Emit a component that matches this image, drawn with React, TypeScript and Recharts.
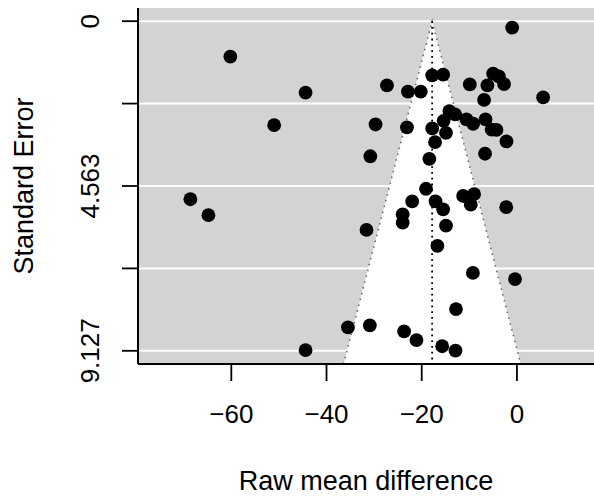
import React from 'react';
import { ComposedChart, Area, Line, Scatter, XAxis, YAxis, CartesianGrid } from 'recharts';

// observed effects (raw mean difference) and their standard errors
const effects = [
  -1.0, -60.2, -44.4, -51.0, -27.3, -17.8, -15.5, -22.9, -20.2, -9.9,
  -6.2, -6.9, -5.0, -3.8, -2.7, 5.5, -14.2, -13.0, -15.4, -10.6,
  -9.2, -6.6, -5.3, -4.3, -2.2, -29.7, -23.1, -17.8, -14.9, -17.2,
  -30.8, -18.4, -6.7, -19.1, -9.0, -11.3, -9.7, -22.0, -17.1, -15.5,
  -24.0, -24.0, -14.9, -2.25, -68.6, -64.8, -31.6, -16.7, -9.25, -0.4,
  -12.8, -35.5, -30.9, -23.7, -21.1, -15.7, -12.9, -44.4,
];
const stdErrors = [
  0.18, 0.98, 1.98, 2.88, 1.78, 1.5, 1.48, 1.95, 1.95, 1.75,
  1.78, 2.18, 1.45, 1.53, 1.74, 2.11, 2.49, 2.58, 2.76, 2.72,
  2.84, 2.72, 3.0, 3.01, 3.33, 2.86, 2.94, 2.97, 3.09, 3.35,
  3.74, 3.81, 3.67, 4.64, 4.79, 4.84, 5.08, 4.99, 4.99, 5.21,
  5.35, 5.58, 5.66, 5.15, 4.93, 5.37, 5.78, 6.22, 6.97, 7.14,
  7.97, 8.48, 8.42, 8.59, 8.83, 9.0, 9.12, 9.11,
];

const pooled = -17.81;
const seTicks = [0, 2.2817, 4.5635, 6.8452, 9.127];
const seTickLabels = ['0', '2.282', '4.563', '6.845', '9.127'];
const xTicks = [-60, -40, -20, 0];

const yDomain = [-0.365, 9.492];
const xDomain = [-79.6, 16.19];

const points = effects.map((v, i) => ({ x: v, se: stdErrors[i] }));

// white funnel: pooled +/- 1.96 * SE, down to the bottom of the plot
const half = 1.96 * yDomain[1];
const funnel = [
  { x: pooled - half, band: [yDomain[1], yDomain[1]] },
  { x: pooled, band: [0, yDomain[1]] },
  { x: pooled + half, band: [yDomain[1], yDomain[1]] },
];
const centerLine = [
  { x: pooled, se: 0 },
  { x: pooled, se: yDomain[1] },
];

const FONT = '"Liberation Sans", Arial, sans-serif';

const Dot = (props: any) => <circle cx={props.cx} cy={props.cy} r={6.9} fill="#000" />;

const YTick = (props: any) => {
  const { y, index } = props;
  if (index % 2 !== 0) return null;
  const bx = 99;
  return (
    <text x={bx} y={y} transform={`rotate(-90, ${bx}, ${y})`} textAnchor="middle" fontSize={26} fontFamily={FONT} fill="#000">
      {seTickLabels[index]}
    </text>
  );
};

const XTick = (props: any) => {
  const { x, payload } = props;
  return (
    <text x={x} y={423} textAnchor="middle" fontSize={26} fontFamily={FONT} fill="#000">
      {String(payload.value).replace('-', '\u2212')}
    </text>
  );
};

const YLabel = () => {
  const cx = 33;
  const cy = 186;
  return (
    <text x={cx} y={cy} transform={`rotate(-90, ${cx}, ${cy})`} textAnchor="middle" fontSize={27} fontFamily={FONT} fill="#000">
      Standard Error
    </text>
  );
};

const XLabel = () => (
  <text x={366} y={490} textAnchor="middle" fontSize={27} fontFamily={FONT} fill="#000">
    Raw mean difference
  </text>
);

export default function App() {
  return (
    <div style={{ position: 'absolute', left: 0, top: 0, width: 594, height: 499, background: '#fff' }}>
      <ComposedChart width={594} height={499} data={funnel} margin={{ top: 8, right: 0, bottom: 0, left: 0 }}>
        <CartesianGrid fill="#d3d3d3" fillOpacity={1} stroke="#fff" strokeWidth={2} vertical={false} horizontalValues={seTicks} />
        <XAxis
          type="number"
          dataKey="x"
          domain={xDomain}
          allowDataOverflow
          ticks={xTicks}
          height={135}
          tickSize={17}
          axisLine={{ stroke: '#000', strokeWidth: 2 }}
          tickLine={{ stroke: '#000', strokeWidth: 1.8 }}
          tick={<XTick />}
          label={<XLabel />}
        />
        <YAxis
          type="number"
          domain={yDomain}
          reversed
          allowDataOverflow
          ticks={seTicks}
          width={138}
          tickSize={16}
          axisLine={{ stroke: '#000', strokeWidth: 2 }}
          tickLine={{ stroke: '#000', strokeWidth: 1.8 }}
          tick={<YTick />}
          label={<YLabel />}
        />
        <Area
          type="linear"
          dataKey="band"
          fill="#fff"
          fillOpacity={1}
          stroke="#666"
          strokeWidth={1.5}
          strokeDasharray="1.5 4.5"
          dot={false}
          activeDot={false}
          isAnimationActive={false}
        />
        <Line
          data={centerLine}
          dataKey="se"
          type="linear"
          stroke="#000"
          strokeWidth={1.8}
          strokeDasharray="1.8 4"
          dot={false}
          activeDot={false}
          isAnimationActive={false}
        />
        <Scatter data={points} dataKey="se" shape={<Dot />} isAnimationActive={false} />
      </ComposedChart>
    </div>
  );
}
